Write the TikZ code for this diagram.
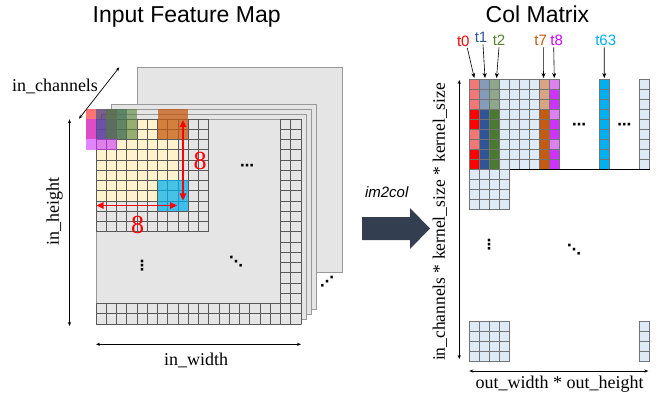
\documentclass[tikz,border=0pt]{standalone}
\usepackage{fontspec}
\setmainfont{Liberation Serif}
\setsansfont{Liberation Sans}
\newfontfamily\dotsfont{DejaVu Sans}
\usetikzlibrary{arrows.meta}
\definecolor{cream}{HTML}{FFF2CC}
\definecolor{lblue}{HTML}{DEEBF7}
\definecolor{tred}{HTML}{FF0000}
\definecolor{tredl}{HTML}{F27878}
\definecolor{tblue}{HTML}{2F5597}
\definecolor{tbluel}{HTML}{829CBA}
\definecolor{tgreen}{HTML}{4A7A2E}
\definecolor{tgreenl}{HTML}{8EA68A}
\definecolor{torange}{HTML}{C55A11}
\definecolor{torangel}{HTML}{D8A486}
\definecolor{tviolet}{HTML}{CC33FF}
\definecolor{tvioletl}{HTML}{DD80F2}
\definecolor{tcyan}{HTML}{00B0F0}
\definecolor{lgreen}{HTML}{548235}
\definecolor{lviolet}{HTML}{CC00FF}
\definecolor{bigarrow}{HTML}{333F50}
\begin{document}
\begin{tikzpicture}[x=1pt,y=-1pt,
  plane/.style={fill=black!10, draw=black!40, line width=0.8pt},
  gridln/.style={draw=black!65, line width=0.6pt},
  mcell/.style={draw=black!55, line width=0.5pt},
  dimarr/.style={{Stealth[length=4pt,width=3.2pt]}-{Stealth[length=4pt,width=3.2pt]}, line width=0.7pt},
  redarr/.style={{Triangle[length=7pt,width=6.5pt]}-{Triangle[length=7pt,width=6.5pt]}, red, line width=1.6pt},
  tarr/.style={-{Stealth[length=5pt,width=4pt]}, line width=0.6pt},
  titletxt/.style={font=\sffamily\fontsize{23}{26}\selectfont, anchor=base, inner sep=0pt},
  dimtxt/.style={font=\fontsize{18}{20}\selectfont, inner sep=0pt},
  eighttxt/.style={font=\fontsize{26}{28}\selectfont, text=red, anchor=base, inner sep=0pt},
  ttxt/.style={font=\sffamily\fontsize{15}{17}\selectfont, anchor=base, inner sep=1pt},
  dotstxt/.style={font=\dotsfont\bfseries\fontsize{14}{15}\selectfont, inner sep=0pt}
]
\useasboundingbox (0,0) rectangle (667,401);
\def\c{10.25}
% ---------------- titles
\node[titletxt] (t_in) at (186.7,23) {Input Feature Map};
\node[titletxt] (t_col) at (537.5,23) {Col Matrix};
% ---------------- stacked planes
\filldraw[plane] (137,67) rectangle (342,272);
\foreach \k in {3,2,1} \filldraw[plane] ({96+5*\k},{119-5*\k}) rectangle ++(205,205);
\filldraw[plane] (96,119) rectangle (301,324);
\fill[cream] (96,119) rectangle ({96+8*\c},{119+8*\c});
\foreach \i in {0,...,11} {
  \draw[gridln] ({96+\i*\c},119) -- ++(0,{11*\c});
  \draw[gridln] (96,{119+\i*\c}) -- ++({11*\c},0);
}
\foreach \i in {18,19,20} {
  \draw[gridln] ({96+\i*\c},119) -- ++(0,205);
  \draw[gridln] (96,{119+\i*\c}) -- ++(205,0);
}
\foreach \j in {0,...,20} {
  \draw[gridln] ({96+18*\c},{119+\j*\c}) -- ++({2*\c},0);
  \draw[gridln] ({96+\j*\c},{119+18*\c}) -- ++(0,{2*\c});
}
% kernel windows (padding 1)
\foreach \col/\row/\clr/\op in {0/0/tred/0.55, 0/1/tviolet/0.6, 1/0/tblue/0.65, 2/0/lgreen/0.6, 7/0/torange/0.75, 7/7/tcyan/0.72}
  \fill[\clr, opacity=\op] ({96-\c+\col*\c},{119-\c+\row*\c}) rectangle ++({3*\c},{3*\c});
% red dimension arrows
\coordinate (rv1) at (183,120);
\coordinate (rv2) at (183,200.5);
\coordinate (rh1) at (96.5,205.5);
\coordinate (rh2) at (177,205.5);
\draw[redarr] (rv1) -- (rv2);
\draw[redarr] (rh1) -- (rh2);
\node[eighttxt] (e1) at (200,170) {8};
\node[eighttxt] (e2) at (137.7,233.3) {8};
% dots on planes
\node[dotstxt] (d1) at (247,167.7) {⋯};
\node[dotstxt] (d2) at (142,265.7) {⋮};
\node[dotstxt] (d3) at (236,262) {⋱};
\node[dotstxt] (d4) at (327,281.7) {⋰};
% black dimension arrows
\coordinate (ch1) at (79,118.7);
\coordinate (ch2) at (119.3,67.3);
\draw[dimarr] (ch1) -- (ch2);
\node[dimtxt, anchor=base] (lch) at (55,92) {in\_channels};
\coordinate (h1) at (69.5,119.3);
\coordinate (h2) at (69.5,326);
\draw[dimarr] (h1) -- (h2);
\node[dimtxt, rotate=90] (lh) at (54.5,211.5) {in\_height};
\coordinate (w1) at (96,344.3);
\coordinate (w2) at (301,344.3);
\draw[dimarr] (w1) -- (w2);
\node[dimtxt, anchor=base] (lw) at (196,365) {in\_width};
% ---------------- im2col arrow
\node[font=\sffamily\itshape\fontsize{15}{17}\selectfont, anchor=base, inner sep=0pt] (im) at (386.7,197) {im2col};
\fill[bigarrow] (362,217) -- (410,217) -- (410,208) -- (430,228.5) -- (410,249) -- (410,240) -- (362,240) -- cycle;
% ---------------- col matrix
\def\mx{469.3}\def\my{79.3}
\foreach \j/\f in {0/tredl,1/tredl,2/tredl,3/tred,4/tred,5/tredl,6/tredl,7/tred,8/tred}
  \filldraw[mcell, fill=\f] (\mx,{\my+10*\j}) rectangle ++(10,10);
\foreach \j/\f in {0/tbluel,1/tbluel,2/tbluel,3/tblue,4/tblue,5/tblue,6/tblue,7/tblue,8/tblue}
  \filldraw[mcell, fill=\f] ({\mx+10},{\my+10*\j}) rectangle ++(10,10);
\foreach \j/\f in {0/tgreenl,1/tgreenl,2/tgreenl,3/tgreen,4/tgreen,5/tgreen,6/tgreen,7/tgreen,8/tgreen}
  \filldraw[mcell, fill=\f] ({\mx+20},{\my+10*\j}) rectangle ++(10,10);
\foreach \i in {3,4,5,6,17} \foreach \j in {0,...,8}
  \filldraw[mcell, fill=lblue] ({\mx+10*\i},{\my+10*\j}) rectangle ++(10,10);
\foreach \j/\f in {0/torangel,1/torangel,2/torangel,3/torange,4/torange,5/torange,6/torange,7/torange,8/torange}
  \filldraw[mcell, fill=\f] ({\mx+70},{\my+10*\j}) rectangle ++(10,10);
\foreach \j/\f in {0/tvioletl,1/tviolet,2/tviolet,3/tvioletl,4/tviolet,5/tviolet,6/tvioletl,7/tviolet,8/tviolet}
  \filldraw[mcell, fill=\f] ({\mx+80},{\my+10*\j}) rectangle ++(10,10);
\foreach \j in {0,...,8}
  \filldraw[mcell, fill=tcyan] ({\mx+130},{\my+10*\j}) rectangle ++(10,10);
\draw[line width=1.4pt] (\mx,169.3) -- (650,169.3);
\foreach \i in {0,...,3} \foreach \j in {0,...,3} {
  \filldraw[mcell, fill=lblue] ({\mx+10*\i},{169.3+10*\j}) rectangle ++(10,10);
  \filldraw[mcell, fill=lblue] ({\mx+10*\i},{321.5+10*\j}) rectangle ++(10,10);
}
\foreach \j in {0,...,3}
  \filldraw[mcell, fill=lblue] ({\mx+170},{321.5+10*\j}) rectangle ++(10,10);
\node[dotstxt] (d5) at (579,126) {⋯};
\node[dotstxt] (d6) at (624.3,126) {⋯};
\node[dotstxt] (d7) at (489,245) {⋮};
\node[dotstxt] (d8) at (574,249.3) {⋱};
% thread labels
\node[ttxt, text=tred] (l0) at (463.3,46.5) {t0};
\node[ttxt, text=tblue] (l1) at (481,43) {t1};
\node[ttxt, text=lgreen] (l2) at (499,46) {t2};
\node[ttxt, text=torange] (l7) at (540.7,46) {t7};
\node[ttxt, text=lviolet] (l8) at (556.7,46) {t8};
\node[ttxt, text=tcyan] (l63) at (605.7,46) {t63};
\coordinate (k0) at (474.3,78);
\coordinate (k1) at (485,78);
\coordinate (k2) at (496.5,78);
\coordinate (k7) at (543.5,78);
\coordinate (k8) at (554.3,78);
\coordinate (k63) at (604.3,78);
\draw[tarr] ([xshift=4pt]l0.south) -- (k0);
\draw[tarr] ([xshift=2pt]l1.south) -- (k1);
\draw[tarr] (l2.south) -- (k2);
\draw[tarr] ([xshift=3pt]l7.south) -- (k7);
\draw[tarr] ([xshift=-3pt]l8.south) -- (k8);
\draw[tarr] ([xshift=-1.5pt]l63.south) -- (k63);
% col matrix dimension arrows
\coordinate (v1) at (459.3,80);
\coordinate (v2) at (459.3,359);
\draw[dimarr] (v1) -- (v2);
\node[font=\fontsize{17.5}{20}\selectfont, inner sep=0pt, rotate=90] (lv) at (440,222) {in\_channels * kernel\_size * kernel\_size};
\coordinate (b1) at (469.3,371);
\coordinate (b2) at (648.3,371);
\draw[dimarr] (b1) -- (b2);
\node[dimtxt, anchor=base] (lb) at (559.7,388) {out\_width * out\_height};
\end{tikzpicture}
\end{document}
